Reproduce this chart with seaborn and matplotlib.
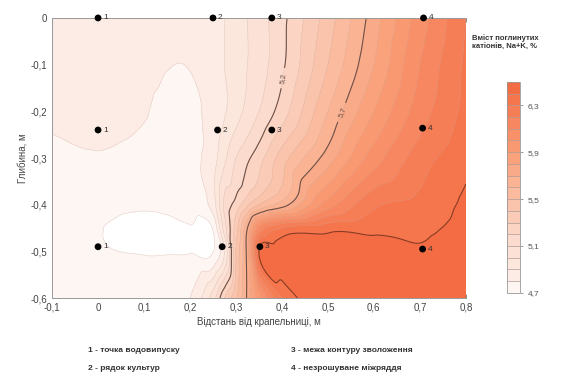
import numpy as np
import matplotlib
matplotlib.use("Agg")
import matplotlib.pyplot as plt
import matplotlib.tri as mtri
from matplotlib.colors import LinearSegmentedColormap, BoundaryNorm, ListedColormap
from matplotlib.cm import ScalarMappable
import seaborn as sns
import pandas as pd

# ---------------- data ----------------
grid_x = [-0.1, 0.0, 0.1, 0.15, 0.2, 0.25, 0.275, 0.3, 0.325, 0.35, 0.4, 0.5, 0.6, 0.7, 0.8]
grid_y = [0.0, -0.1, -0.2, -0.3, -0.4, -0.45, -0.5, -0.6]
content = [
    [4.86, 4.86, 4.85, 4.84, 4.84, 4.86, 4.90, 4.95, 5.00, 5.05, 5.17, 5.45, 5.75, 6.05, 6.30],
    [4.87, 4.87, 4.85, 4.805, 4.805, 4.86, 4.90, 4.95, 5.00, 5.05, 5.18, 5.50, 5.80, 6.10, 6.32],
    [4.83, 4.86, 4.81, 4.76, 4.77, 4.84, 4.89, 4.96, 5.03, 5.10, 5.25, 5.60, 5.90, 6.15, 6.33],
    [4.77, 4.79, 4.76, 4.75, 4.77, 4.86, 4.98, 5.10, 5.18, 5.26, 5.45, 5.75, 6.05, 6.25, 6.37],
    [4.76, 4.74, 4.715, 4.725, 4.75, 4.85, 5.12, 5.24, 5.38, 5.50, 5.65, 6.05, 6.28, 6.33, 6.42],
    [4.76, 4.705, 4.66, 4.67, 4.695, 4.71, 5.05, 5.35, 5.70, 6.10, 6.30, 6.36, 6.37, 6.38, 6.43],
    [4.77, 4.71, 4.695, 4.695, 4.695, 4.695, 4.90, 5.40, 5.75, 6.40, 6.45, 6.45, 6.45, 6.41, 6.44],
    [4.78, 4.77, 4.76, 4.76, 4.80, 5.05, 5.30, 5.48, 5.72, 5.95, 6.30, 6.48, 6.48, 6.47, 6.46],
]
pt_x = [0.0, 0.0, 0.0, 0.25, 0.26, 0.27, 0.378, 0.378, 0.352, 0.708, 0.706, 0.706]
pt_y = [0.0, -0.24, -0.49, 0.0, -0.24, -0.49, 0.0, -0.24, -0.49, 0.0, -0.236, -0.495]
pt_lab = ["1", "1", "1", "2", "2", "2", "3", "3", "3", "4", "4", "4"]
levels = [4.7, 4.8, 4.9, 5.0, 5.1, 5.2, 5.3, 5.4, 5.5, 5.6, 5.7, 5.8, 5.9,
          6.0, 6.1, 6.2, 6.3, 6.4, 6.5]
cbar_ticks = [4.7, 5.1, 5.5, 5.9, 6.3]
x_ticks = [-0.1, 0.0, 0.1, 0.2, 0.3, 0.4, 0.5, 0.6, 0.7, 0.8]
y_ticks = [0.0, -0.1, -0.2, -0.3, -0.4, -0.5, -0.6]
legend_lines = ["1 - точка водовипуску", "2 - рядок культур",
                "3 - межа контуру зволоження", "4 - незрошуване міжряддя"]

# ---------------- style ----------------
sns.set_theme(style="white")
plt.rcParams["font.family"] = ["Liberation Sans", "DejaVu Sans"]

def fmt(v):
    s = f"{v:.1f}".replace(".", ",")
    if s in ("0,0", "-0,0"):
        s = "0"
    return s

fig = plt.figure(figsize=(5.66, 3.74), dpi=100)
ax = fig.add_axes([0.092, 0.203, 0.731, 0.749])

# interpolate grid
gx = np.array(grid_x)
gy = np.array(grid_y)
Z = np.array(content)
GX, GY = np.meshgrid(gx, gy)
nx, ny = len(gx), len(gy)
tris = []
for j in range(ny - 1):
    for i in range(nx - 1):
        a = j * nx + i
        b = a + 1
        c = a + nx
        d = c + 1
        tris.append([a, b, d])
        tris.append([a, d, c])
tri = mtri.Triangulation(GX.ravel(), GY.ravel(), np.array(tris))
interp = mtri.CubicTriInterpolator(tri, Z.ravel(), kind="geom")
xi = np.linspace(-0.1, 0.8, 451)
yi = np.linspace(-0.6, 0.0, 301)
XI, YI = np.meshgrid(xi, yi)
ZI = np.ma.filled(interp(XI, YI), np.nan)

cmap = LinearSegmentedColormap.from_list(
    "wo",
    [(0.0, (253/255, 246/255, 243/255)),
     (0.06, (252/255, 236/255, 229/255)),
     (0.25, (251/255, 218/255, 204/255)),
     (0.45, (250/255, 190/255, 163/255)),
     (0.68, (249/255, 157/255, 118/255)),
     (1.0, (244/255, 108/255, 68/255))], N=256)
nb = len(levels) - 1
band_cols = [cmap(i / (nb - 1)) for i in range(nb)]
bcmap = ListedColormap(band_cols)
bcmap.set_under("white")
bcmap.set_over(band_cols[-1])
norm = BoundaryNorm(levels, bcmap.N)

cf = ax.contourf(XI, YI, ZI, levels=levels, cmap=bcmap, norm=norm, extend="both")
ax.contour(XI, YI, ZI, levels=[4.7] + levels[1:-1], colors="#cdb0a6",
           linewidths=0.35, alpha=0.55)
dark = ax.contour(XI, YI, ZI, levels=[5.2, 5.7], colors="#6e5048", linewidths=0.8)
ax.contour(XI, YI, ZI, levels=[6.4], colors="#8a3a22", linewidths=0.8)
ax.clabel(dark, fmt=lambda v: fmt(v), fontsize=5.5, inline=True,
          manual=[(0.41, -0.13), (0.55, -0.21)])

# points
df = pd.DataFrame({"x": pt_x, "y": pt_y, "lab": pt_lab})
sns.scatterplot(data=df, x="x", y="y", ax=ax, color="black", s=24,
                edgecolor="none", zorder=5, legend=False, clip_on=False)
for x, y, l in zip(pt_x, pt_y, pt_lab):
    ax.text(x + 0.011, y, l, fontsize=6, va="center", ha="left",
            color="#333333", zorder=6, clip_on=False)

ax.set_xlim(-0.1, 0.8)
ax.set_ylim(-0.6, 0.0)
ax.set_xticks(x_ticks)
ax.set_yticks(y_ticks)
ax.set_xticklabels([fmt(v) for v in x_ticks])
ax.set_yticklabels([fmt(v) for v in y_ticks])
ax.tick_params(direction="in", length=3, width=0.6, colors="#777777",
               labelsize=7, labelcolor="#444444", top=True, bottom=True, left=True)
for s in ["top", "left", "bottom"]:
    ax.spines[s].set_color("#999999")
    ax.spines[s].set_linewidth(0.7)
ax.spines["right"].set_visible(False)
ax.set_xlabel("Відстань від крапельниці, м", fontsize=7, color="#444444", labelpad=3)
ax.set_ylabel("Глибина, м", fontsize=7, color="#444444", labelpad=2)

# colorbar
cax = fig.add_axes([0.896, 0.217, 0.023, 0.564])
sm = ScalarMappable(norm=norm, cmap=bcmap)
cb = fig.colorbar(sm, cax=cax, ticks=cbar_ticks, drawedges=True,
                  boundaries=levels, extend="neither")
cb.minorticks_off()
cb.ax.set_yticks(cbar_ticks)
cb.ax.set_yticklabels([fmt(v) for v in cbar_ticks])
cb.ax.tick_params(labelsize=6, colors="#777777", labelcolor="#555555", length=2, width=0.5)
cb.outline.set_edgecolor("#999999")
cb.outline.set_linewidth(0.6)
cb.dividers.set_color("#b09a94")
cb.dividers.set_linewidth(0.5)
fig.text(0.834, 0.865, "Вміст поглинутих\nкатіонів, Na+K, %", fontsize=5.5,
         fontweight="bold", color="#333333", ha="left", va="bottom", linespacing=1.2)

# legend text
fig.text(0.155, 0.058, legend_lines[0], fontsize=6, fontweight="bold", color="#333333")
fig.text(0.155, 0.012, legend_lines[1], fontsize=6, fontweight="bold", color="#333333")
fig.text(0.515, 0.058, legend_lines[2], fontsize=6, fontweight="bold", color="#333333")
fig.text(0.515, 0.012, legend_lines[3], fontsize=6, fontweight="bold", color="#333333")

fig.savefig("out.png", dpi=100)
